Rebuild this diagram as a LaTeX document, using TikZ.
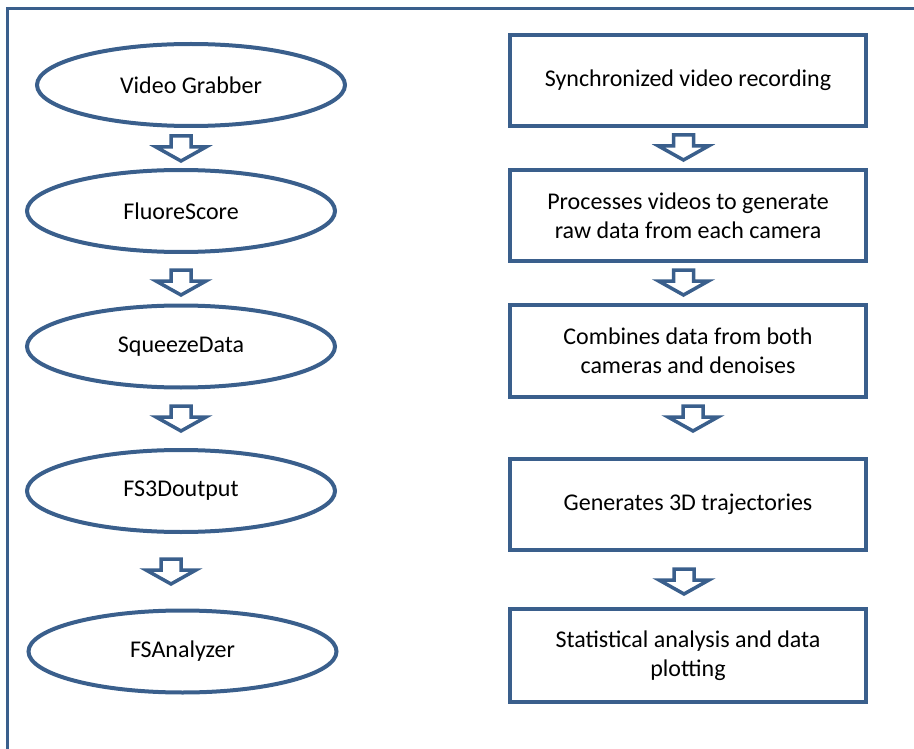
\documentclass[tikz,border=0pt]{standalone}
\usepackage{fontspec}
\setmainfont{Carlito}
\usepackage{xcolor}
\usetikzlibrary{shapes.geometric}
\definecolor{flowblue}{RGB}{58,95,140}

\tikzset{
	stage/.style={ellipse, draw=flowblue, line width=4pt, minimum width=308pt, minimum height=82pt, inner sep=0pt},
	task/.style={rectangle, draw=flowblue, line width=4pt, minimum width=356pt, minimum height=91pt, inner sep=0pt, align=center},
	blockarrow/.style={draw=flowblue, line width=3.5pt, fill=white}
}
\newcommand{\hollowarrow}[1]{\draw[blockarrow, shift={(#1)}] (-10,0) -- (10,0) -- (10,11) -- (25,11) -- (0,25) -- (-25,11) -- (-10,11) -- cycle;}

\begin{document}
\begin{tikzpicture}[x=1pt, y=-1pt, font=\fontsize{24}{29}\selectfont]
		\useasboundingbox (0,0) rectangle (914,749);
		\draw[flowblue, line width=3pt] (7,749) -- (7,8.5) -- (914,8.5);

		% software stages
		\node[stage] (grabber) at (191,85) {Video Grabber};
		\node[stage] (fluore) at (181,211) {FluoreScore};
		\node[stage] (squeeze) at (181,346.5) {SqueezeData};
		\node[stage] (fsout) at (181,491) {FS3Doutput};
		\node[stage] (analyzer) at (182.5,651.5) {FSAnalyzer};

		% what each stage does
		\node[task] (record) at (688,80.5) {Synchronized video recording};
		\node[task] (process) at (688,215.5) {Processes videos to generate\\raw data from each camera};
		\node[task, minimum height=92pt] (combine) at (688,351) {Combines data from both\\cameras and denoises};
		\node[task] (traject) at (688,504) {Generates 3D trajectories};
		\node[task, minimum height=93pt] (stats) at (688,655.5) {Statistical analysis and data\\plotting};

		\coordinate (L1) at (181,136);
		\coordinate (L2) at (181,270);
		\coordinate (L3) at (181,406);
		\coordinate (L4) at (171,559);
		\coordinate (R1) at (683.5,135);
		\coordinate (R2) at (683.5,270);
		\coordinate (R3) at (693,406);
		\coordinate (R4) at (684,569);

		\hollowarrow{L1}
		\hollowarrow{L2}
		\hollowarrow{L3}
		\hollowarrow{L4}
		\hollowarrow{R1}
		\hollowarrow{R2}
		\hollowarrow{R3}
		\hollowarrow{R4}
	\end{tikzpicture}
\end{document}
